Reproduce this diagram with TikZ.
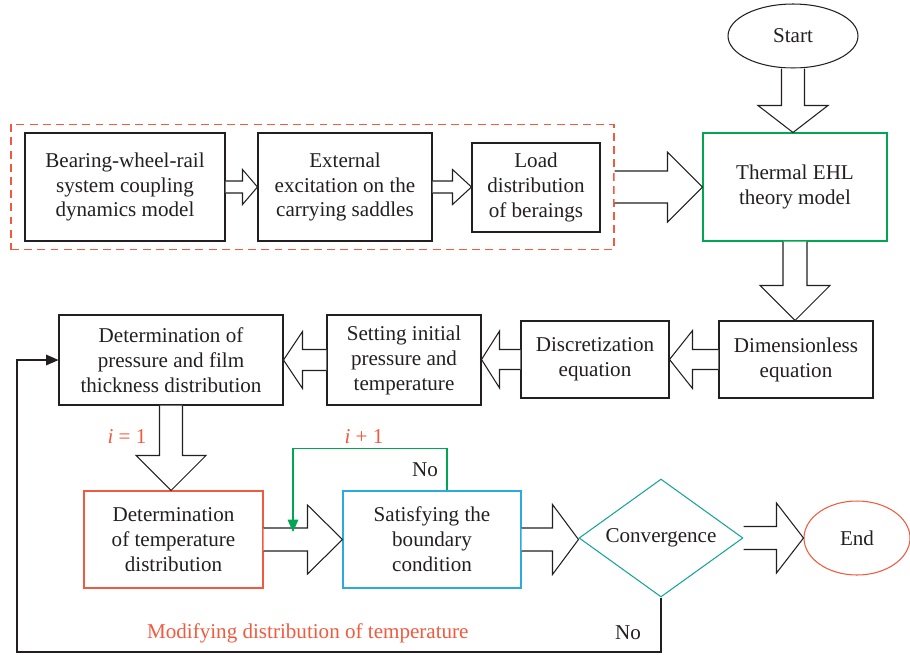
\documentclass[tikz,border=0pt]{standalone}
\usepackage{fontspec}
\setmainfont{Liberation Serif}
\usetikzlibrary{arrows.meta,positioning,calc,fit,shapes.geometric}
\definecolor{inkdark}{HTML}{231F20}
\definecolor{flowred}{HTML}{F05A3E}
\definecolor{flowgreen}{HTML}{00A651}
\definecolor{flowcyan}{HTML}{29ABE2}
\definecolor{flowteal}{HTML}{16A39C}
\newcommand{\pxu}{0.569pt}
% hollow block arrows: from, to, shaft half width, head half width, head length (px)
\newcommand{\harrow}[5]{%
  \draw[fatarrow] let \p1=#1, \p2=#2 in
    (\x1,{\y1+#3*\pxu}) -- ({\x2-(#5)*\pxu},{\y1+#3*\pxu}) -- ({\x2-(#5)*\pxu},{\y1+#4*\pxu})
    -- (\x2,\y1) -- ({\x2-(#5)*\pxu},{\y1-#4*\pxu}) -- ({\x2-(#5)*\pxu},{\y1-#3*\pxu}) -- (\x1,{\y1-#3*\pxu});}
\newcommand{\varrow}[5]{%
  \draw[fatarrow] let \p1=#1, \p2=#2 in
    ({\x1-#3*\pxu},\y1) -- ({\x1-#3*\pxu},{\y2+#5*\pxu}) -- ({\x1-#4*\pxu},{\y2+#5*\pxu})
    -- (\x1,\y2) -- ({\x1+#4*\pxu},{\y2+#5*\pxu}) -- ({\x1+#3*\pxu},{\y2+#5*\pxu}) -- ({\x1+#3*\pxu},\y1);}
\tikzset{
  stepbox/.style   = {rectangle, draw=inkdark, line width=0.6pt, align=center, inner sep=2pt,
                      font=\fontsize{12}{14.2}\selectfont, text=inkdark},
  groupbox/.style  = {rectangle, draw=flowred, line width=0.6pt, dash pattern=on 4.5pt off 3pt,
                      inner xsep=0.27cm, inner ysep=0.16cm},
  fatarrow/.style  = {draw=inkdark, line width=0.6pt, fill=white},
  loopline/.style  = {draw=flowgreen, line width=0.6pt, -{Triangle[length=7pt,width=6pt]}},
  backline/.style  = {draw=inkdark, line width=0.6pt, -{Triangle[length=7pt,width=6pt]}},
  redlabel/.style  = {font=\fontsize{12}{14.2}\selectfont, text=flowred, inner sep=1pt},
  plainlabel/.style= {font=\fontsize{12}{14.2}\selectfont, text=inkdark, inner sep=1pt},
}
\begin{document}
\begin{tikzpicture}[x=0.02cm, y=-0.02cm]
\useasboundingbox (0,0) rectangle (910,654);

\node[stepbox, ellipse, minimum width=2.6cm, minimum height=1.28cm] (start) at (793,36) {Start};
\node[stepbox, draw=flowgreen, minimum width=3.68cm, minimum height=2.16cm] (thermal) at (795,187) {Thermal EHL\\theory model};

\node[stepbox, minimum width=4cm, minimum height=2.16cm]    (bwr)  at (125,187) {Bearing-wheel-rail\\system coupling\\dynamics model};
\node[stepbox, minimum width=3.48cm, minimum height=2.16cm] (exc)  at (345,187) {External\\excitation on the\\carrying saddles};
\node[stepbox, minimum width=2.56cm, minimum height=1.78cm] (load) at (536,187.5) {Load\\distribution\\of beraings};
\node[groupbox, fit=(bwr)(load)] (coupling) {};

\node[stepbox, minimum width=3.08cm, minimum height=1.54cm] (dimless) at (796,359.5) {Dimensionless\\equation};
\node[stepbox, minimum width=2.96cm, minimum height=1.54cm] (discr)   at (595,359.5) {Discretization\\equation};
\node[stepbox, minimum width=3.08cm, minimum height=1.8cm]  (setting) at (404,360) {Setting initial\\pressure and\\temperature};
\node[stepbox, minimum width=4.48cm, minimum height=1.8cm]  (press)   at (171,360) {Determination of\\pressure and film\\thickness distribution};

\node[stepbox, draw=flowred, minimum width=3.58cm, minimum height=1.94cm]  (temp)  at (173.5,539.5) {Determination\\of temperature\\distribution};
\node[stepbox, draw=flowcyan, minimum width=3.56cm, minimum height=1.94cm] (satis) at (432,539.5) {Satisfying the\\boundary\\condition};
\node[stepbox, draw=flowteal, diamond, aspect=1.39, inner sep=0pt,
      minimum width=3.28cm, minimum height=2.36cm] (conv) at (661,538) {Convergence};
\node[stepbox, draw=flowred, ellipse, minimum width=2.12cm, minimum height=1.48cm] (end) at (857,538) {End};

% block arrows
\varrow{(start.south)}{(thermal.north)}{11.5}{35}{27}
\harrow{(bwr.east)}{(exc.west)}{6}{17.5}{15}
\harrow{(exc.east)}{(load.west)}{6}{17.5}{19}
\harrow{(coupling.east)}{(thermal.west)}{16}{35}{35}
\varrow{(thermal.south)}{(dimless.north)}{12}{35}{35}
\harrow{(dimless.west)}{(discr.east)}{10}{29}{-23}
\harrow{(discr.west)}{(setting.east)}{10}{28.5}{-18}
\harrow{(setting.west)}{(press.east)}{10.5}{28.5}{-19}
\varrow{(press.south)}{(temp.north)}{11.5}{35}{35}
\harrow{(temp.east)}{(satis.west)}{11.5}{34.5}{35}
\harrow{(satis.east)}{(conv.west)}{11.5}{35}{26}
\harrow{(conv.east)}{(end.west)}{11.5}{35}{27}

% iteration loops
\coordinate (iterin) at (293,532);
\draw[loopline] ($(satis.north)+(15,0)$) -- ++(0,-42) -| (iterin);
\coordinate (lowleft) at (17,652);
\draw[backline] (conv.south) |- (lowleft) |- (press.west);

\node[redlabel] (ione)  at (127,437) {\textit{i} = 1};
\node[redlabel] (inext) at (364,437) {\textit{i} + 1};
\node[plainlabel] (noinner) at (425,470) {No};
\node[plainlabel] (noouter) at (628,633) {No};
\node[redlabel, anchor=west] (modify) at (145,633) {Modifying distribution of temperature};
\end{tikzpicture}
\end{document}
